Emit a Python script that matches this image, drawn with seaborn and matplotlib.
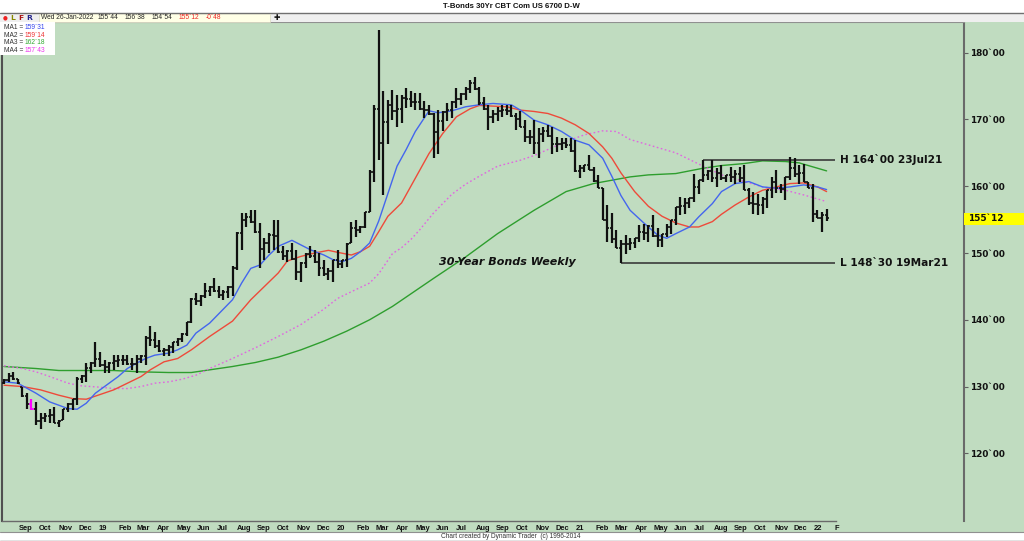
import matplotlib
matplotlib.use("Agg")
import matplotlib.pyplot as plt
import matplotlib.dates as mdates
from matplotlib.patches import Rectangle
import numpy as np
import pandas as pd
import seaborn as sns

# ---------------- data (weekly OHLC, T-Bonds continuous) ----------------
START = "2018-08-13"
highs = [131.2,132.0,132.2,131.2,130.0,129.0,128.2,127.7,126.0,126.0,
         126.7,127.0,125.0,126.7,127.5,128.2,131.5,131.7,133.5,133.7,
         136.6,135.2,134.0,133.7,134.7,134.7,134.7,134.7,134.2,134.7,
         134.7,137.5,139.0,138.2,137.0,135.7,136.2,136.7,137.2,138.0,
         139.7,143.2,144.0,143.7,145.5,145.0,146.2,145.0,144.5,145.0,
         148.0,153.2,156.0,156.0,156.4,156.4,154.5,152.2,153.0,155.0,
         155.0,151.0,150.5,151.5,150.5,148.7,150.0,151.0,150.5,150.0,
         149.0,147.7,149.0,150.5,149.0,151.5,154.7,155.0,154.0,156.2,
         162.4,172.2,183.4,174.2,172.9,174.4,173.7,173.6,174.7,174.2,
         173.9,173.9,172.7,172.2,170.9,171.4,171.2,172.4,172.7,174.7,
         173.9,174.9,175.9,176.4,174.9,173.4,172.2,171.4,171.9,172.2,
         172.2,172.2,170.9,171.2,169.9,168.4,169.9,168.7,168.9,169.2,
         168.9,167.4,167.2,167.2,167.2,166.9,163.2,163.2,164.7,162.9,
         161.7,159.7,157.2,156.0,153.5,151.9,152.7,152.2,152.2,154.2,
         154.4,154.2,155.7,153.7,152.9,154.4,154.9,156.9,158.4,158.2,
         158.2,161.9,160.9,164.0,162.4,163.9,162.7,163.2,161.7,162.9,
         162.4,162.9,163.2,159.7,159.2,158.9,158.4,159.4,161.4,162.4,
         160.4,161.4,164.4,164.2,163.2,163.4,160.7,160.4,156.4,156.2,
         156.59]
lows = [130.4,130.7,131.0,130.4,128.5,126.7,126.5,124.2,123.7,124.7,
        124.5,124.5,124.0,125.0,126.2,126.5,127.2,130.5,130.7,132.0,
        133.0,133.0,132.1,132.1,132.5,133.0,133.2,133.2,132.5,132.1,
        133.5,133.2,136.0,135.7,135.2,134.5,134.6,135.0,136.0,136.7,
        137.5,139.5,142.2,142.0,143.3,143.5,144.2,143.2,143.0,143.2,
        143.5,147.5,150.5,153.9,154.5,153.0,147.7,149.0,150.0,150.5,
        150.0,149.0,148.7,149.0,146.0,145.7,147.7,149.2,148.5,146.5,
        146.5,146.0,145.7,147.7,147.7,147.9,151.5,152.4,153.0,153.7,
        156.2,160.7,163.9,158.7,166.4,169.9,168.9,169.5,171.7,171.9,
        171.4,171.4,170.2,170.7,164.2,164.9,168.2,169.7,170.2,171.7,
        172.2,172.9,173.9,174.4,172.2,171.4,168.4,169.4,169.7,170.4,
        170.7,170.4,168.4,168.9,166.7,166.4,164.9,164.2,166.7,167.4,
        164.9,165.2,165.4,165.7,165.2,162.2,161.2,162.2,162.4,160.7,
        159.7,154.9,151.7,151.5,150.7,148.47,149.9,150.4,150.7,151.7,
        151.9,151.7,152.4,150.9,150.9,152.4,152.9,154.2,155.7,155.9,
        156.7,157.7,158.9,160.7,160.9,160.7,159.9,160.9,160.7,160.7,
        160.4,160.7,159.4,157.2,155.9,155.7,155.9,156.7,158.2,159.0,
        159.0,157.9,160.9,161.4,160.4,160.7,159.7,154.7,155.2,153.2,
        154.84]
opens = [130.6,131.0,131.6,131.1,130.0,128.6,127.35,126.6,124.85,125.35,
         125.6,125.75,124.6,125.0,126.6,127.35,128.1,131.1,131.6,132.85,
         133.6,134.1,133.2,132.9,133.6,133.85,133.95,133.95,133.35,133.4,
         134.1,134.6,137.3,136.95,136.1,135.3,135.4,135.85,136.6,137.1,
         137.9,139.6,143.1,142.85,143.6,144.25,144.9,144.3,143.75,144.1,
         144.9,147.8,153.0,154.95,155.45,154.7,153.1,150.6,151.5,152.75,
         152.5,150.2,149.6,150.25,149.1,147.2,148.5,149.9,149.5,148.6,
         147.75,146.85,147.35,148.9,148.35,148.9,151.5,153.7,153.5,153.9,
         156.2,162.2,171.5,166.45,169.65,172.15,171.3,171.55,173.2,173.05,
         172.65,172.65,171.6,171.45,170.8,168.15,169.7,171.05,171.45,172.6,
         173.05,173.8,174.6,175.4,174.5,172.4,171.5,170.4,170.8,171.3,
         171.45,171.3,170.5,170.05,168.9,167.4,167.4,166.45,167.8,168.3,
         167.5,166.3,166.3,166.45,166.2,165.3,162.3,162.7,163.2,162.5,
         160.8,159.7,155.0,153.75,152.1,150.8,151.3,151.3,151.45,152.2,
         153.15,152.95,154.05,152.5,151.9,152.9,153.9,154.9,156.9,157.05,
         157.45,158.2,159.9,160.9,161.65,162.3,161.3,162.05,161.2,161.7,
         161.4,161.8,161.3,159.5,157.55,157.3,157.15,158.05,159.4,160.7,
         159.7,159.65,161.4,162.8,161.8,162.05,160.7,159.8,155.8,155.2,
         155.69]
closes = [131.0,131.6,131.1,130.5,128.6,127.35,126.6,124.85,125.35,125.6,
          125.75,124.6,124.9,126.6,127.35,128.1,131.1,131.6,132.85,133.6,
          134.1,133.2,132.9,133.6,133.85,133.95,133.95,133.35,133.4,134.1,
          134.6,137.3,136.95,136.1,135.3,135.4,135.85,136.6,137.1,137.9,
          139.6,143.1,142.85,143.6,144.25,144.9,144.3,143.75,144.1,144.9,
          147.8,153.0,154.95,155.45,154.7,153.1,150.6,151.5,152.75,152.5,
          150.2,149.6,150.25,149.1,147.2,148.5,149.9,149.5,148.6,147.75,
          146.85,147.35,148.9,148.35,148.9,151.4,153.7,153.5,153.9,156.1,
          162.2,171.5,166.45,169.65,172.15,171.3,171.55,173.2,173.05,172.65,
          172.65,171.6,171.45,170.8,168.15,169.7,171.05,171.45,172.6,173.05,
          173.8,174.6,175.4,174.5,172.4,171.5,170.4,170.8,171.3,171.45,
          171.3,170.5,170.05,168.9,167.4,167.4,166.45,167.8,168.3,167.5,
          166.3,166.3,166.45,166.2,165.3,162.3,162.7,163.2,162.5,160.8,
          159.8,155.0,153.75,152.1,150.8,151.3,151.3,151.45,152.2,153.15,
          152.95,154.05,152.5,151.9,152.9,153.9,154.9,156.9,157.05,157.45,
          158.2,159.9,160.9,161.65,162.3,161.3,162.05,161.2,161.7,161.4,
          161.8,161.3,159.5,157.55,157.3,157.15,158.05,159.4,160.7,159.7,
          159.65,161.4,162.8,161.8,162.05,160.7,159.8,155.8,155.2,155.7,
          155.19]
HIGHLIGHT_BAR = 6

# moving averages (bar index, value)
ma1_idx = [0,3,7,10,14,16,18,20,22,25,27,29,31,33,36,38,40,42,45,50,52,54,56,58,60,63,65,67,70,72,
           74,76,78,80,82,84,86,88,90,93,95,98,101,104,107,111,113,116,119,122,125,128,131,133,135,137,
           140,143,145,147,150,152,155,157,160,163,166,169,172,175,178,180]
ma1_val = [130.7,130.5,129.0,127.7,126.7,126.6,127.5,129.0,130.0,131.5,132.7,133.5,134.2,134.7,135.0,
           135.5,136.2,138.0,139.5,143.0,145.5,147.7,148.2,149.7,151.0,151.9,151.2,150.5,149.7,149.0,
           148.7,149.2,150.2,151.5,154.8,158.9,163.0,165.5,168.2,171.3,171.0,171.3,171.9,172.2,172.4,
           172.2,171.4,169.9,169.2,168.2,166.9,166.2,164.2,161.5,158.6,156.4,154.5,152.7,152.2,152.9,
           153.9,155.4,157.4,159.2,160.4,160.7,159.9,159.7,159.9,160.2,159.9,159.5]
ma2_idx = [0,4,8,12,15,18,21,24,27,30,32,35,38,41,43,45,50,54,57,60,62,65,68,71,73,76,78,80,82,84,
           87,90,93,96,99,102,104,107,110,113,116,119,122,125,128,131,133,135,138,141,144,147,150,152,
           155,157,160,163,166,169,172,175,178,180]
ma2_val = [130.2,130.0,129.5,128.7,128.2,128.1,128.8,129.5,130.5,131.5,132.5,133.7,134.2,135.5,136.5,
           137.5,139.8,143.0,145.0,147.0,148.8,149.5,150.0,150.4,150.1,149.7,150.2,151.0,153.2,155.5,
           157.5,161.2,164.9,167.9,170.4,171.6,172.1,172.0,171.9,171.4,171.2,170.9,170.2,169.2,167.9,
           165.9,164.2,162.0,159.2,157.0,155.5,154.5,153.9,153.9,154.7,155.8,157.2,158.4,159.4,159.9,
           160.4,160.5,159.9,159.2]
ma3_idx = [0,7,12,18,24,30,36,41,45,50,55,60,65,70,75,80,85,88,94,101,108,116,123,129,133,137,141,
           147,153,157,162,166,171,174,177,180]
ma3_val = [133.0,132.7,132.4,132.4,132.4,132.2,132.1,132.1,132.5,133.0,133.6,134.4,135.5,136.8,138.3,
           140.0,142.0,143.4,146.2,149.4,152.9,156.4,159.2,160.4,160.9,161.4,161.7,161.9,162.7,163.1,
           163.4,163.8,163.7,163.5,162.9,162.3]
ma4_idx = [0,4,7,10,14,17,21,24,27,30,33,36,39,42,45,50,55,60,65,70,73,76,80,82,85,87,89,91,94,98,
           101,104,108,113,116,119,123,127,131,134,137,141,147,153,157,162,166,171,175,180]
ma4_val = [133.1,132.7,132.2,131.5,130.5,130.1,129.9,129.7,129.7,130.0,130.5,130.7,131.1,131.7,132.7,
           134.2,135.8,137.5,139.3,141.6,143.2,144.2,145.5,146.9,149.9,150.8,152.0,153.5,156.0,158.8,
           160.3,161.5,163.0,163.9,164.6,165.5,166.7,167.7,168.3,168.2,167.0,166.2,165.0,163.0,161.7,
           160.7,159.9,159.4,158.7,157.7]

ma_names = ["MA1", "MA2", "MA3", "MA4"]
ma_texts = ["159`31", "159`14", "162`18", "157`43"]

HIGH_IDX, HIGH_VAL, HIGH_LABEL = 153, 164.0, "H 164`00 23Jul21"
LOW_IDX, LOW_VAL, LOW_LABEL = 135, 148.47, "L 148`30 19Mar21"
LAST_LABEL, LAST_VAL = "155`12", 155.19

y_ticks = [120, 130, 140, 150, 160, 170, 180]
y_tick_labels = ["120`00", "130`00", "140`00", "150`00", "160`00", "170`00", "180`00"]
month_labels = ["Sep", "Oct", "Nov", "Dec",
                "19", "Feb", "Mar", "Apr", "May", "Jun", "Jul", "Aug", "Sep", "Oct", "Nov", "Dec",
                "20", "Feb", "Mar", "Apr", "May", "Jun", "Jul", "Aug", "Sep", "Oct", "Nov", "Dec",
                "21", "Feb", "Mar", "Apr", "May", "Jun", "Jul", "Aug", "Sep", "Oct", "Nov", "Dec",
                "22", "F"]

TITLE = "T-Bonds 30Yr CBT Com US 6700 D-W"
HEADER_DATE = "Wed 26-Jan-2022"
HEADER_VALUES = ["155`44", "156`38", "154`54", "155`12", "-0`48"]
CHART_TEXT = "30-Year Bonds Weekly"
FOOTER = "Chart created by Dynamic Trader  (c) 1996-2014"

# ---------------- style ----------------
sns.set_style("white")
plt.rcParams['font.family'] = ['DejaVu Sans']

W, H = 1024, 541
GREEN = '#C0DCC0'
BAR = '#101010'
C_BLUE, C_RED, C_GREEN, C_PINK = '#4466EE', '#EE4A3A', '#2E9E2E', '#E066E0'

fig = plt.figure(figsize=(W / 100, H / 100), dpi=100, facecolor=GREEN)


def fx(x):
    return x / W


def fy(y):
    return 1 - y / H


ax = fig.add_axes([fx(2), fy(521), (964 - 2) / W, (521 - 22) / H])
ax.set_facecolor(GREEN)

dates = pd.date_range(START, periods=len(highs), freq="7D")
dn = mdates.date2num(dates)
PX_PER_DAY = 4.57 / 7


def px2d(x):
    return dn[0] + (x - 4) / PX_PER_DAY


ax.set_xlim(px2d(2), px2d(964))
ax.set_ylim(109.86, 184.6)

# moving averages via seaborn
for idx, vals, col, ls in [(ma3_idx, ma3_val, C_GREEN, '-'),
                           (ma4_idx, ma4_val, C_PINK, (0, (1.2, 1.8))),
                           (ma2_idx, ma2_val, C_RED, '-'),
                           (ma1_idx, ma1_val, C_BLUE, '-')]:
    df = pd.DataFrame({"date": dates[idx], "value": vals})
    sns.lineplot(data=df, x="date", y="value", ax=ax, color=col, lw=1.0,
                 linestyle=ls, estimator=None, legend=False, sort=False, zorder=3)

# OHLC bars
colors = [BAR] * len(dn)
colors[HIGHLIGHT_BAR] = '#FF00FF'
ax.vlines(dn, lows, highs, colors=colors, lw=1.6, zorder=5)
ax.hlines(opens, dn - 3.2, dn, colors=colors, lw=1.2, zorder=5)
ax.hlines(closes, dn, dn + 3.2, colors=colors, lw=1.2, zorder=5)

# swing high / low lines
ax.hlines(HIGH_VAL, dn[HIGH_IDX], px2d(835), color='#3a3a3a', lw=1.2, zorder=4)
ax.hlines(LOW_VAL, dn[LOW_IDX], px2d(835), color='#3a3a3a', lw=1.2, zorder=4)
ax.text(px2d(840), HIGH_VAL, HIGH_LABEL, ha='left', va='center', fontsize=7.6,
        fontweight='bold', color='#111111')
ax.text(px2d(840), LOW_VAL, LOW_LABEL, ha='left', va='center', fontsize=7.6,
        fontweight='bold', color='#111111')

ax.set_xlabel("")
ax.set_ylabel("")

# right axis
ax.yaxis.tick_right()
ax.set_yticks(y_ticks)
ax.set_yticklabels(y_tick_labels, fontsize=6.4, fontweight='bold', color='#111111')
ax.tick_params(axis='y', direction='out', length=3, width=0.8, color='#606060', pad=1.5)

# bottom month axis
months = pd.date_range("2018-09-01", periods=len(month_labels), freq="MS")
mnum = mdates.date2num(months)
ax.set_xticks(mnum)
ax.tick_params(axis='x', direction='out', length=3, width=0.8, color='#606060', labelbottom=False)
for m, lab in zip(mnum, month_labels):
    ax.text(m + 3.5, -(528.5 - 521) / 499, lab, transform=ax.get_xaxis_transform(),
            ha='left', va='center', fontsize=5.4, fontweight='bold',
            family='Liberation Sans', color='#111111', clip_on=False)

for side in ['left', 'right', 'bottom', 'top']:
    ax.spines[side].set_visible(True)
ax.spines['left'].set_color('#505050')
ax.spines['left'].set_linewidth(1.5)
ax.spines['right'].set_color('#6a6a6a')
ax.spines['right'].set_linewidth(1.5)
ax.spines['bottom'].set_color('#6a6a6a')
ax.spines['bottom'].set_linewidth(1.0)
ax.spines['top'].set_color('#909090')
ax.spines['top'].set_linewidth(0.8)
ax.spines['bottom'].set_bounds(px2d(2), px2d(836))

# chart caption
fig.text(fx(507), fy(262), CHART_TEXT, ha='center', va='center', fontsize=8,
         fontweight='bold', style='italic', color='#111111')

# ---------------- header ----------------
fig.patches.append(Rectangle((0, fy(12.5)), 1, 12.5 / H, transform=fig.transFigure,
                             facecolor='white', edgecolor='none', zorder=5))
fig.patches.append(Rectangle((0, fy(22)), 1, 9.5 / H, transform=fig.transFigure,
                             facecolor='#EFEFEF', edgecolor='none', zorder=5))
fig.lines.append(plt.Line2D([0, 1], [fy(12.5), fy(12.5)], transform=fig.transFigure,
                            color='#707070', lw=1.0, zorder=6))
fig.patches.append(Rectangle((fx(39), fy(21.5)), (270 - 39) / W, 8 / H, transform=fig.transFigure,
                             facecolor='#FFFFE6', edgecolor='#D8D8C0', lw=0.5, zorder=6))
fig.text(fx(511), fy(6), TITLE, ha='center', va='center', fontsize=5.6, fontweight='bold',
         family='Liberation Sans', color='#111111', zorder=7)
for xx, s, c in [(5.5, "●", '#EE2222'), (12.5, "L", '#888800'), (21, "F", '#AA1111'),
                 (29.5, "R", '#222288')]:
    fig.text(fx(xx), fy(17.5), s, ha='center', va='center', fontsize=5.4 if s != "●" else 4,
             fontweight='bold', color=c, zorder=7)
fig.text(fx(41), fy(17.5), HEADER_DATE, ha='left', va='center', fontsize=4.8,
         family='Liberation Sans', color='#222222', zorder=7)
for xx, s, c in zip([98, 125, 152, 179, 206], HEADER_VALUES,
                    ['#222222', '#222222', '#222222', '#EE2222', '#EE2222']):
    fig.text(fx(xx), fy(17.5), s, ha='left', va='center', fontsize=4.8,
             family='Liberation Sans', color=c, zorder=7)
fig.text(fx(277), fy(17.5), "✚", ha='center', va='center', fontsize=5.5, color='#111111', zorder=7)

# MA legend box
fig.patches.append(Rectangle((0, fy(55)), 55 / W, 33 / H, transform=fig.transFigure,
                             facecolor='white', edgecolor='none', zorder=6))
for k, (nm, val, col) in enumerate(zip(ma_names, ma_texts, ['#3344EE', '#EE3333', '#33AA33', '#EE33EE'])):
    yy = 27.7 + k * 7.6
    fig.text(fx(3.5), fy(yy), nm + " =", ha='left', va='center', fontsize=4.8,
             family='Liberation Sans', color='#333333', zorder=7)
    fig.text(fx(25), fy(yy), val, ha='left', va='center', fontsize=4.8,
             family='Liberation Sans', color=col, zorder=7)

# last price marker
fig.patches.append(Rectangle((fx(964), fy(224.5)), (1024 - 964) / W, 11.5 / H,
                             transform=fig.transFigure, facecolor='#FFFF00', edgecolor='none', zorder=6))
fig.text(fx(968), fy(218.7), LAST_LABEL, ha='left', va='center', fontsize=6.4,
         fontweight='bold', color='#111111', zorder=7)

# ---------------- footer ----------------
fig.patches.append(Rectangle((0, 0), 1, (H - 532) / H, transform=fig.transFigure,
                             facecolor='white', edgecolor='none', zorder=5))
fig.lines.append(plt.Line2D([0, 1], [fy(532), fy(532)], transform=fig.transFigure,
                            color='#909090', lw=0.8, zorder=6))
fig.lines.append(plt.Line2D([0, 1], [fy(540.5), fy(540.5)], transform=fig.transFigure,
                            color='#707070', lw=1.0, zorder=6))
fig.text(fx(511), fy(536), FOOTER, ha='center', va='center', fontsize=4.7,
         family='Liberation Sans', color='#333333', zorder=7)

fig.savefig("out.png", dpi=100, facecolor=GREEN)
